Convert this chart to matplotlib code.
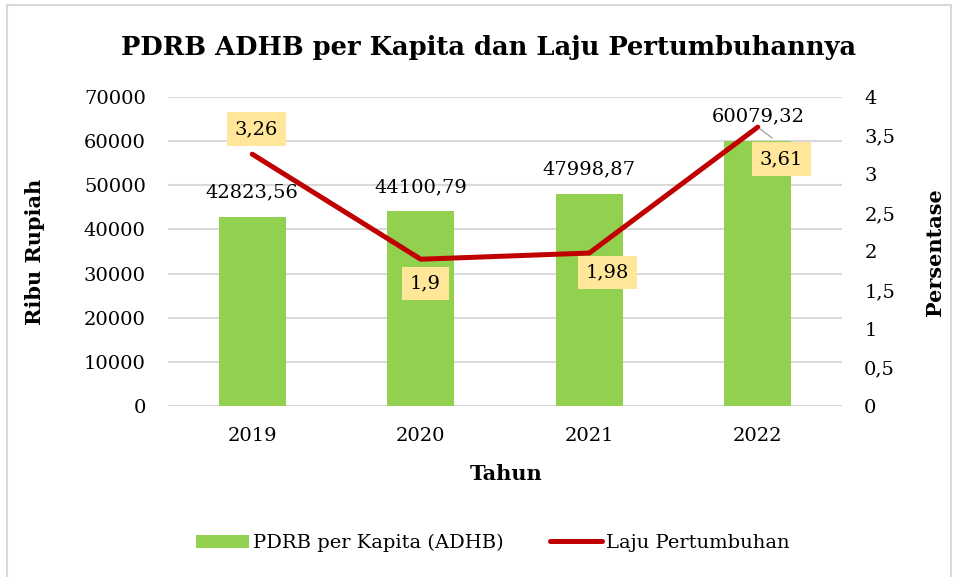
import matplotlib
matplotlib.use("Agg")
import matplotlib.pyplot as plt
from matplotlib.patches import Rectangle

# data
years = ["2019", "2020", "2021", "2022"]
pdrb = [42823.56, 44100.79, 47998.87, 60079.32]
laju = [3.26, 1.9, 1.98, 3.61]
pdrb_labels = ["42823,56", "44100,79", "47998,87", "60079,32"]
laju_labels = ["3,26", "1,9", "1,98", "3,61"]
left_ticks = [0, 10000, 20000, 30000, 40000, 50000, 60000, 70000]
right_ticks = [0, 0.5, 1, 1.5, 2, 2.5, 3, 3.5, 4]
right_ticklabels = ["0", "0,5", "1", "1,5", "2", "2,5", "3", "3,5", "4"]

GREEN = "#92d050"
RED = "#c00000"
BOX = "#ffe699"
GRID = "#d9d9d9"

plt.rcParams["font.family"] = ["DejaVu Serif"]
W, H = 955, 577
fig = plt.figure(figsize=(W / 100, H / 100), dpi=100)

# chart border (Excel chart area)
fig.patches.append(Rectangle((7 / W, -0.05), (951 - 7) / W, 1.05 - 5 / H,
                             transform=fig.transFigure, fill=False,
                             edgecolor=GRID, linewidth=1.5))

ax = fig.add_axes([168 / W, 1 - 406 / H, (842 - 168) / W, (406 - 97) / H])
ax2 = ax.twinx()

x = list(range(len(years)))
ax.bar(x, pdrb, width=0.4, color=GREEN, zorder=2, label="PDRB per Kapita (ADHB)")
ax.set_xlim(-0.5, 3.5)
ax.set_ylim(0, 70000)
ax.set_yticks(left_ticks)
ax.set_yticklabels([str(t) for t in left_ticks])
ax.set_xticks(x)
ax.set_xticklabels(years)
ax.yaxis.grid(True, color=GRID, linewidth=1.5, zorder=0)
ax.set_axisbelow(True)
for s in ax.spines.values():
    s.set_visible(False)
for s in ax2.spines.values():
    s.set_visible(False)
ax.tick_params(axis="both", length=0, labelsize=14, pad=15)
ax.tick_params(axis="y", pad=16)

for xi, v, lab in zip(x, pdrb, pdrb_labels):
    ax.annotate(lab, (xi, v), xytext=(0, 11), textcoords="offset points",
                ha="center", va="bottom", fontsize=14, zorder=3)

ax2.plot(x, laju, color=RED, linewidth=3.6, solid_capstyle="round",
         solid_joinstyle="round", label="Laju Pertumbuhan", zorder=3)
ax2.set_ylim(0, 4)
ax2.set_yticks(right_ticks)
ax2.set_yticklabels(right_ticklabels)
ax2.tick_params(axis="y", length=0, labelsize=14, pad=16)

offsets = [(3, 18), (3.5, -17.5), (13, -14), (17, -23)]
for xi, v, lab, off in zip(x, laju, laju_labels, offsets):
    ax2.annotate(lab, (xi, v), xytext=off, textcoords="offset points",
                 ha="center", va="center", fontsize=14, zorder=5,
                 bbox=dict(boxstyle="square,pad=0.4", facecolor=BOX, edgecolor="none"))
# leader line for last label
ax2.annotate("", (x[3], laju[3]), xytext=(12, -9), textcoords="offset points",
             arrowprops=dict(arrowstyle="-", color="#a6a6a6", linewidth=1), zorder=4)

fig.text(489 / W, 1 - 47 / H, "PDRB ADHB per Kapita dan Laju Pertumbuhannya",
         ha="center", va="center", fontsize=18.5, fontweight="bold")
fig.text(35 / W, 1 - 252 / H, "Ribu Rupiah", rotation=90, ha="center",
         va="center", fontsize=15, fontweight="bold")
fig.text(935 / W, 1 - 252 / H, "Persentase", rotation=90, ha="center",
         va="center", fontsize=15, fontweight="bold")
fig.text(506 / W, 1 - 474 / H, "Tahun", ha="center", va="center",
         fontsize=15, fontweight="bold")

h1, l1 = ax.get_legend_handles_labels()
h2, l2 = ax2.get_legend_handles_labels()
fig.legend(h1 + h2, l1 + l2, loc="center", bbox_to_anchor=(493 / W, 1 - 543 / H),
           ncol=2, frameon=False, fontsize=14, handlelength=2.7,
           handletextpad=0.2, columnspacing=2.4)

fig.savefig("out.png", dpi=100)
